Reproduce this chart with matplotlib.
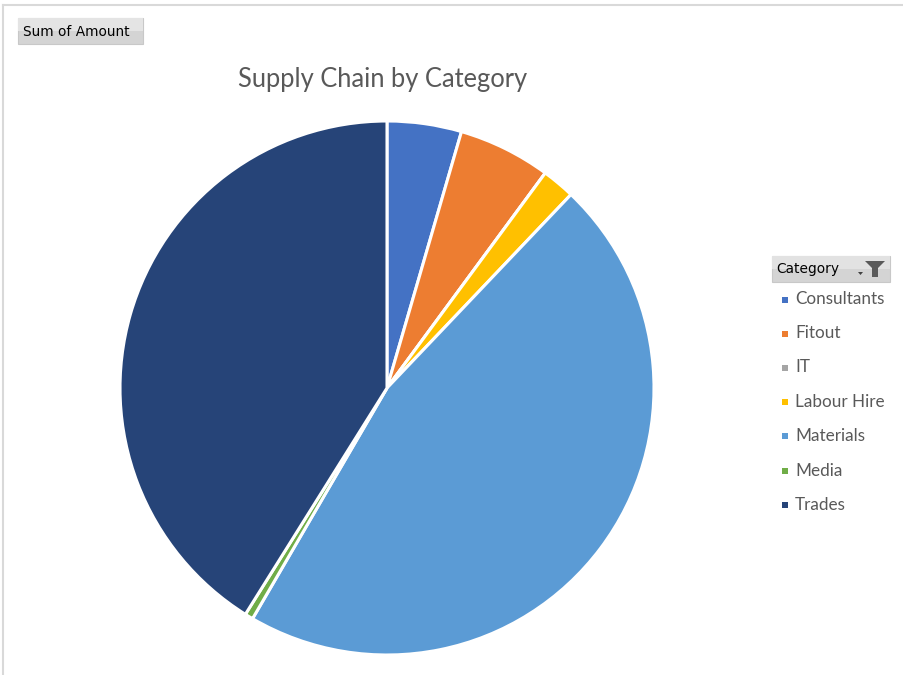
import matplotlib
matplotlib.use("Agg")
import matplotlib.pyplot as plt
from matplotlib.patches import Rectangle, Polygon
from matplotlib.lines import Line2D

categories = ["Consultants", "Fitout", "IT", "Labour Hire", "Materials", "Media", "Trades"]
amounts = [4.5, 5.6, 0.0, 2.0, 46.3, 0.5, 41.1]
colors = ["#4472C4", "#ED7D31", "#A5A5A5", "#FFC000", "#5B9BD5", "#70AD47", "#264478"]
title = "Supply Chain by Category"
field_button = "Sum of Amount"
legend_title = "Category"

W, H = 904, 675
fig = plt.figure(figsize=(W / 100, H / 100), dpi=100)
fig.patch.set_facecolor("white")

def px(x, y):
    return x / W, 1 - y / H

# chart border (light gray)
fig.add_artist(Line2D([3 / W, 1], [1 - 4.5 / H, 1 - 4.5 / H], color="#D9D9D9", lw=1.5))
fig.add_artist(Line2D([3 / W, 3 / W], [0, 1 - 4.5 / H], color="#D9D9D9", lw=1.5))

# pie
cx, cy, r = 387, 388, 267
ax = fig.add_axes([(cx - r) / W, (H - cy - r) / H, 2 * r / W, 2 * r / H])
ax.pie(amounts, colors=colors, startangle=90, counterclock=False,
       wedgeprops=dict(edgecolor="white", linewidth=2.2))
ax.set_xlim(-1, 1)
ax.set_ylim(-1, 1)
ax.set_aspect("equal")
ax.axis("off")

# title
fig.text(*px(383, 80), title, ha="center", va="center", fontsize=18.4,
         color="#595959", family="Lato")

# field button "Sum of Amount"
x0, y0, x1, y1 = 18, 18, 143, 44
fig.add_artist(Rectangle(px(x0, y1), (x1 - x0) / W, (y1 - y0) / H,
                         facecolor="#D4D4D4", edgecolor="#C8C8C8", lw=0.8))
fig.add_artist(Rectangle(px(x0, (y0 + y1) / 2), (x1 - x0) / W, (y1 - y0) / 2 / H,
                         facecolor="#E4E4E4", edgecolor="none"))
fig.text(*px(23, 31.5), field_button, ha="left", va="center", fontsize=9.9,
         color="#000000", family="DejaVu Sans")

# legend header button
lx0, ly0, lx1, ly1 = 772, 256, 890, 282
fig.add_artist(Rectangle(px(lx0, ly1), (lx1 - lx0) / W, (ly1 - ly0) / H,
                         facecolor="#D4D4D4", edgecolor="#C8C8C8", lw=0.8))
fig.add_artist(Rectangle(px(lx0, (ly0 + ly1) / 2), (lx1 - lx0) / W, (ly1 - ly0) / 2 / H,
                         facecolor="#E2E2E2", edgecolor="none"))
fig.text(*px(776, 269.5), legend_title, ha="left", va="center", fontsize=9.9,
         color="#000000", family="DejaVu Sans")
# funnel icon and small drop arrow
funnel = [(865, 261), (885, 261), (878, 268), (878, 277), (872, 277), (872, 268)]
fig.add_artist(Polygon([px(*p) for p in funnel], closed=True, facecolor="#5A5A5A",
                       edgecolor="none"))
arrow = [(858, 272), (863, 272), (860.5, 275)]
fig.add_artist(Polygon([px(*p) for p in arrow], closed=True, facecolor="#404040",
                       edgecolor="none"))

# legend entries
ys = [299.5, 333.5, 367.5, 402, 436, 470.5, 504.5]
for cat, col, yy in zip(categories, colors, ys):
    s = 6
    fig.add_artist(Rectangle(px(782, yy + s / 2), s / W, s / H,
                             facecolor=col, edgecolor="none"))
    fig.text(*px(795, yy), cat, ha="left", va="center", fontsize=12.3,
             color="#595959", family="Lato")

fig.savefig("out.png", dpi=100, facecolor="white")
